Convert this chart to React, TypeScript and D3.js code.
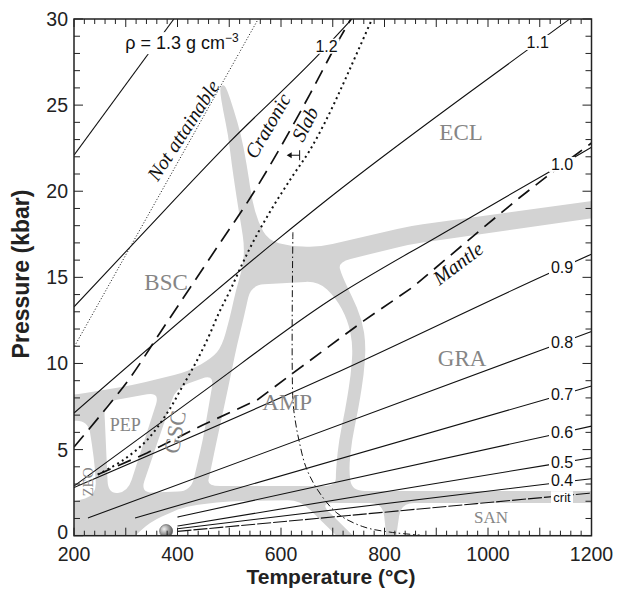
import React from "react";
import * as d3 from "d3";

type Pt = [number, number];

// ---------- axes ----------
const tempDomain: Pt = [200, 1200];
const presDomain: Pt = [0, 30];
const xTickLabels = [200, 400, 600, 800, 1000, 1200];
const yTickLabels = [0, 5, 10, 15, 20, 25, 30];
const xMinorTicks = d3.range(200, 1201, 20);
const yMinorTicks = d3.range(0, 31, 1);

// ---------- water isochores (T °C, P kbar) ----------
const iso13: Pt[] = [[200, 22.1], [393, 30]];
const iso12: Pt[] = [[200, 13.29], [321, 17.16], [501, 22.86], [675, 28.0], [737, 30]];
const iso11: Pt[] = [[200, 7.12], [592, 17.16], [695, 19.65], [1071, 28.09], [1158, 30]];
const iso10: Pt[] = [[200, 2.88], [443, 8.22], [695, 13.68], [907, 17.45], [1114, 21.05], [1200, 22.55]];
const iso09: Pt[] = [[200, 2.8], [695, 9.3], [1114, 15.18], [1200, 16.35]];
const iso08: Pt[] = [[227, 1.03], [1114, 10.9], [1200, 11.86]];
const iso07: Pt[] = [[318, 1.03], [1114, 7.94], [1200, 8.69]];
const iso06: Pt[] = [[400, 1.08], [1114, 5.79], [1200, 6.36]];
const iso05: Pt[] = [[400, 0.56], [1114, 4.1], [1200, 4.53]];
const iso04: Pt[] = [[400, 0.4], [1114, 3.0], [1200, 3.31]];
const isoCrit: Pt[] = [[400, 0.25], [1114, 2.24], [1200, 2.48]];
const isoNames = ["1.2", "1.1", "1.0", "0.9", "0.8", "0.7", "0.6", "0.5", "0.4", "crit"];
const isoLabelT = [688, 1096, 1143, 1143, 1143, 1143, 1143, 1143, 1143, 1143];
const rhoLabelAnchor: Pt = [299, 28.25];

// ---------- geotherms and curves ----------
const cratonic: Pt[] = [[200, 5.15], [250, 6.95], [308, 9.15], [366, 11.77], [424, 14.38], [482, 16.99], [540, 19.59], [598, 22.5], [656, 25.64], [704, 28.36], [735, 30]];
const slab: Pt[] = [[246, 3.55], [295, 4.39], [341, 5.55], [380, 7.12], [409, 8.63], [436, 10.08], [459, 11.48], [480, 12.93], [502, 14.26], [525, 15.77], [550, 17.28], [583, 19.02], [621, 20.82], [656, 22.39], [691, 24.36], [720, 26.22], [745, 27.9], [776, 30]];
const mantle: Pt[] = [[246, 3.55], [341, 4.8], [449, 6.43], [554, 7.88], [623, 9.44], [759, 12.46], [855, 14.44], [985, 17.74], [1062, 19.65], [1112, 20.82], [1200, 22.8]];
const notAttainable: Pt[] = [[201, 11.0], [556, 30]];
const dashDot: Pt[] = [[623, 17.62], [623, 7.9], [628, 6.6], [635, 5.5], [648, 4.0], [671, 2.65], [708, 1.32], [758, 0.53], [810, 0.21], [868, 0.04]];
const slabArrow: Pt[] = [[636, 22.09], [611, 22.09]];
const samplePoint: Pt = [378, 0.27];

// ---------- metamorphic facies fields (white areas; gray = boundaries) ----------
const fieldUpper: Pt[] = [[154, 31.7], [154, 8.17], [200, 8.17], [314, 8.75], [418, 9.5], [467, 10.31], [486, 11.01], [500, 12.52], [513, 14.26], [527, 15.71], [529, 16.87], [523, 18.03], [515, 19.48], [505, 21.51], [498, 23.25], [488, 24.7], [481, 25.98], [488, 26.22], [495, 25.98], [509, 24.7], [523, 23.25], [534, 21.51], [544, 19.48], [556, 18.2], [575, 17.16], [617, 16.81], [675, 16.76], [849, 17.98], [1255, 19.66], [1255, 31.7]];
const fieldGRA: Pt[] = [[710, 15.89], [849, 16.92], [1255, 18.67], [1255, 2.59], [737, 2.59], [731, 3.81], [737, 5.55], [749, 7.3], [760, 9.33], [764, 11.07], [757, 12.52], [737, 13.91], [718, 15.07]];
const fieldAMP: Pt[] = [[542, 14.55], [672, 14.78], [706, 13.8], [729, 12.52], [739, 11.07], [735, 9.33], [724, 7.3], [712, 5.55], [706, 3.81], [706, 2.88], [457, 2.88], [463, 3.64], [476, 5.55], [490, 7.47], [503, 9.33], [515, 11.07], [527, 12.52]];
const fieldGSC: Pt[] = [[397, 8.57], [471, 9.39], [449, 5.55], [426, 2.59], [328, 2.48]];
const fieldPEP: Pt[] = [[258, 7.76], [366, 8.34], [304, 2.54], [266, 2.42]];
const fieldZEO: Pt[] = [[154, 6.6], [227, 6.72], [235, 5.26], [241, 3.81], [243, 2.36], [200, 1.95], [154, 1.95]];
const fieldBelow: Pt[] = [[299, -0.54], [347, 0.8], [415, 1.72], [501, 2.01], [637, 2.07], [710, -0.08], [724, -0.54]];
const fieldSanLeft: Pt[] = [[675, 1.9], [797, 1.9], [805, -0.54], [757, -0.54]];
const fieldSanRight: Pt[] = [[832, 1.9], [1255, 1.9], [1255, -0.54], [820, -0.54]];

const faciesNames = ["BSC", "ECL", "GRA", "AMP", "PEP", "GSC", "ZEO", "SAN"];
const faciesAnchors: Pt[] = [[378, 14.73], [948, 23.43], [950, 10.31], [612, 7.76], [299, 6.43], [395, 6.02], [227, 3.12], [1006, 1.08]];
const curveNames = ["Not attainable", "Cratonic", "Slab", "Mantle"];
const curveAnchors: Pt[] = [[411, 23.54], [574, 23.8], [646, 23.9], [942, 15.82]];

// ---------- component ----------
const W = 617, H = 589;
const PL = 74, PR = 591.5, PT = 19, PB = 535.7;

function roundedPath(pts: Pt[], r: number): string {
  const n = pts.length;
  const pre: Pt[] = [], post: Pt[] = [];
  for (let i = 0; i < n; i++) {
    const V = pts[i], A = pts[(i - 1 + n) % n], B = pts[(i + 1) % n];
    const dA = Math.hypot(A[0] - V[0], A[1] - V[1]);
    const dB = Math.hypot(B[0] - V[0], B[1] - V[1]);
    const ra = Math.min(r, dA / 2), rb = Math.min(r, dB / 2);
    pre.push([V[0] + (A[0] - V[0]) * ra / dA, V[1] + (A[1] - V[1]) * ra / dA]);
    post.push([V[0] + (B[0] - V[0]) * rb / dB, V[1] + (B[1] - V[1]) * rb / dB]);
  }
  const p = d3.path();
  p.moveTo(post[0][0], post[0][1]);
  for (let k = 1; k <= n; k++) {
    const j = k % n;
    p.lineTo(pre[j][0], pre[j][1]);
    p.quadraticCurveTo(pts[j][0], pts[j][1], post[j][0], post[j][1]);
  }
  p.closePath();
  return p.toString();
}

function interp(pts: Pt[], t: number): number {
  for (let i = 0; i < pts.length - 1; i++) {
    const [a, pa] = pts[i], [b, pb] = pts[i + 1];
    if (t >= a && t <= b) return pa + ((t - a) / (b - a)) * (pb - pa);
  }
  return pts[pts.length - 1][1];
}

export default function App() {
  const x = d3.scaleLinear().domain(tempDomain).range([PL, PR]);
  const y = d3.scaleLinear().domain(presDomain).range([PB, PT]);
  const toPx = (pts: Pt[]): Pt[] => pts.map(([t, p]) => [x(t), y(p)] as Pt);

  const lineMono = d3.line<Pt>().x(d => x(d[0])).y(d => y(d[1])).curve(d3.curveMonotoneX);
  const lineCR = d3.line<Pt>().x(d => x(d[0])).y(d => y(d[1])).curve(d3.curveCatmullRom.alpha(0.5));
  const lineLin = d3.line<Pt>().x(d => x(d[0])).y(d => y(d[1]));

  const isoLines = [iso12, iso11, iso10, iso09, iso08, iso07, iso06, iso05, iso04, isoCrit];
  const fields = [fieldUpper, fieldGRA, fieldAMP, fieldGSC, fieldPEP, fieldZEO, fieldBelow, fieldSanLeft, fieldSanRight];

  const faciesStyle: Record<string, { size: number; rot: number }> = {
    BSC: { size: 23, rot: 0 }, ECL: { size: 23, rot: 0 }, GRA: { size: 23, rot: 0 }, AMP: { size: 23, rot: 0 },
    PEP: { size: 18, rot: 0 }, GSC: { size: 22, rot: -80 }, ZEO: { size: 15, rot: -90 }, SAN: { size: 17, rot: 0 },
  };
  const curveRot = [-57, -60, -63, -37];

  const sans = "'Liberation Sans', Arial, Helvetica, sans-serif";
  const serif = "'Liberation Serif', 'Times New Roman', serif";

  return (
    <svg width={W} height={H} style={{ position: "absolute", left: 0, top: 0, background: "#fff" }}>
      <defs>
        <clipPath id="plot">
          <rect x={PL} y={PT} width={PR - PL} height={PB - PT} />
        </clipPath>
        <radialGradient id="ball" cx="35%" cy="35%" r="70%">
          <stop offset="0%" stopColor="#f0f0f0" />
          <stop offset="55%" stopColor="#9a9a9a" />
          <stop offset="100%" stopColor="#555" />
        </radialGradient>
      </defs>

      <g clipPath="url(#plot)">
        <rect x={PL} y={PT} width={PR - PL} height={PB - PT} fill="#d3d3d3" />
        {fields.map((f, i) => (
          <path key={i} d={roundedPath(toPx(f), 13)} fill="#fff" />
        ))}

        {/* isochores */}
        <path d={lineMono(iso13) || ""} fill="none" stroke="#111" strokeWidth={1.1} />
        {isoLines.map((l, i) => (
          <path key={i} d={lineMono(l) || ""} fill="none" stroke="#111" strokeWidth={1.1}
            strokeDasharray={isoNames[i] === "crit" ? "14,2" : undefined} />
        ))}

        {/* geotherms */}
        <path d={lineLin(notAttainable) || ""} fill="none" stroke="#111" strokeWidth={1} strokeDasharray="1,2" />
        <path d={lineCR(cratonic) || ""} fill="none" stroke="#111" strokeWidth={1.7} strokeDasharray="15,8" />
        <path d={lineCR(slab) || ""} fill="none" stroke="#111" strokeWidth={2} strokeDasharray="2,3.5" />
        <path d={lineLin(mantle) || ""} fill="none" stroke="#111" strokeWidth={1.7} strokeDasharray="14,8" />
        <path d={lineCR(dashDot) || ""} fill="none" stroke="#111" strokeWidth={1} strokeDasharray="7,3,1.5,3" />

        {/* slab arrow */}
        <line x1={x(slabArrow[0][0])} y1={y(slabArrow[0][1])} x2={x(slabArrow[1][0]) + 3} y2={y(slabArrow[1][1])} stroke="#111" strokeWidth={1} />
        <path d={`M${x(slabArrow[1][0])},${y(slabArrow[1][1])} l5,-3 l0,6 z`} fill="#111" />
        <line x1={x(slabArrow[0][0])} y1={y(slabArrow[0][1]) - 5} x2={x(slabArrow[0][0])} y2={y(slabArrow[0][1]) + 5} stroke="#111" strokeWidth={1} />

        {/* facies labels */}
        {faciesNames.map((n, i) => {
          const st = faciesStyle[n];
          const cx = x(faciesAnchors[i][0]), cy = y(faciesAnchors[i][1]);
          return (
            <text key={n} x={cx} y={cy} fontFamily={serif} fontSize={st.size} fill="#858585"
              textAnchor="middle" dominantBaseline="central"
              transform={st.rot ? `rotate(${st.rot},${cx},${cy})` : undefined}>{n}</text>
          );
        })}

        {/* curve labels */}
        {curveNames.map((n, i) => {
          const cx = x(curveAnchors[i][0]), cy = y(curveAnchors[i][1]);
          return (
            <text key={n} x={cx} y={cy} fontFamily={serif} fontStyle="italic" fontSize={20} fill="#111"
              textAnchor="middle" dominantBaseline="central" transform={`rotate(${curveRot[i]},${cx},${cy})`}>{n}</text>
          );
        })}

        {/* isochore labels */}
        {isoNames.map((n, i) => {
          const t = isoLabelT[i];
          const shift = n === "0.4" ? -2 : n === "crit" ? 1.5 : 0;
          const cx = x(t), cy = y(interp(isoLines[i], t)) + shift;
          const fs = n === "crit" ? 13 : 16;
          const w = n === "crit" ? 22 : 26;
          const h = n === "crit" ? 12 : 15;
          return (
            <g key={n}>
              <rect x={cx - w / 2} y={cy - h / 2} width={w} height={h} fill="#fff" />
              <text x={cx} y={cy} fontFamily={sans} fontSize={fs} fill="#111" textAnchor="middle" dominantBaseline="central">{n}</text>
            </g>
          );
        })}

        {/* rho label */}
        <rect x={x(rhoLabelAnchor[0]) - 3} y={y(rhoLabelAnchor[1]) - 17} width={117} height={22} fill="#fff" />
        <text x={x(rhoLabelAnchor[0])} y={y(rhoLabelAnchor[1])} fontFamily={sans} fontSize={18} fill="#111">
          ρ = 1.3 g cm<tspan dy={-7} fontSize={12}>−3</tspan>
        </text>

        {/* sample */}
        <circle cx={x(samplePoint[0])} cy={y(samplePoint[1])} r={6.5} fill="url(#ball)" stroke="#555" strokeWidth={0.6} />
      </g>

      {/* frame and ticks */}
      <g stroke="#222" strokeWidth={1}>
        {xMinorTicks.map(t => {
          const len = t % 100 === 0 ? 8 : 5;
          return (
            <g key={"x" + t}>
              <line x1={x(t)} x2={x(t)} y1={PB} y2={PB - len} />
              <line x1={x(t)} x2={x(t)} y1={PT} y2={PT + len} />
            </g>
          );
        })}
        {yMinorTicks.map(p => {
          const len = p % 5 === 0 ? 9 : 6;
          return (
            <g key={"y" + p}>
              <line x1={PL} x2={PL + len} y1={y(p)} y2={y(p)} />
              <line x1={PR} x2={PR - len} y1={y(p)} y2={y(p)} />
            </g>
          );
        })}
      </g>
      <rect x={PL} y={PT} width={PR - PL} height={PB - PT} fill="none" stroke="#222" strokeWidth={1.5} />

      {xTickLabels.map(t => (
        <text key={"xl" + t} x={x(t)} y={561} fontFamily={sans} fontSize={19.5} fill="#222" textAnchor="middle">{t}</text>
      ))}
      {yTickLabels.map(p => (
        <text key={"yl" + p} x={68} y={y(p)} dy={p === 0 ? "0.17em" : "0.36em"} fontFamily={sans} fontSize={19.5} fill="#222" textAnchor="end">{p}</text>
      ))}

      <text x={331} y={584.3} fontFamily={sans} fontSize={21} fontWeight="bold" fill="#222" textAnchor="middle">Temperature (°C)</text>
      <text x={29} y={274} fontFamily={sans} fontSize={23} fontWeight="bold" fill="#222" textAnchor="middle"
        transform="rotate(-90,29,274)">Pressure (kbar)</text>
    </svg>
  );
}
